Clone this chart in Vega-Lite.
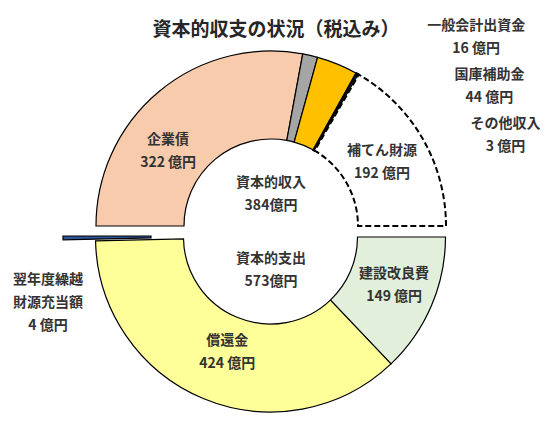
{
  "$schema": "https://vega.github.io/schema/vega-lite/v6.json",
  "width": 558,
  "height": 447,
  "padding": 0,
  "autosize": {"type": "none"},
  "background": "white",
  "config": {
    "view": {"stroke": "#d9d9d9", "strokeWidth": 2},
    "font": "Noto Sans CJK JP",
    "text": {"font": "Noto Sans CJK JP", "fontSize": 14, "fontWeight": "bold", "color": "#333333", "lineBreak": "\n", "lineHeight": 23, "align": "center", "baseline": "middle"}
  },
  "title": {
    "text": "資本的収支の状況（税込み）",
    "fontSize": 19,
    "fontWeight": "bold",
    "color": "#262626",
    "font": "Noto Sans CJK JP",
    "anchor": "middle",
    "dx": -3,
    "dy": 44
  },
  "datasets": {
    "slices": [
      {"half": "in", "name": "企業債", "value": 322, "order": 1, "label": "企業債\n322 億円"},
      {"half": "in", "name": "一般会計出資金", "value": 16, "order": 2, "label": "一般会計出資金\n16 億円"},
      {"half": "in", "name": "国庫補助金", "value": 44, "order": 3, "label": "国庫補助金\n44 億円"},
      {"half": "in", "name": "その他収入", "value": 3, "order": 4, "label": "その他収入\n3 億円"},
      {"half": "in", "name": "補てん財源", "value": 192, "order": 5, "label": "補てん財源\n192 億円"},
      {"half": "out", "name": "建設改良費", "value": 149, "order": 1, "label": "建設改良費\n149 億円"},
      {"half": "out", "name": "償還金", "value": 424, "order": 2, "label": "償還金\n424 億円"},
      {"half": "out", "name": "翌年度繰越財源充当額", "value": 4, "order": 3, "label": "翌年度繰越\n財源充当額\n4 億円"}
    ],
    "totals": [
      {"half": "in", "label": "資本的収入\n384億円"},
      {"half": "out", "label": "資本的支出\n573億円"}
    ]
  },
  "layer": [
    {
      "data": {"name": "slices"},
      "transform": [{"filter": "datum.half === 'in'"}],
      "mark": {"type": "arc", "outerRadius": 175, "innerRadius": 87, "xOffset": -8, "yOffset": 2.5, "stroke": "#000000"},
      "encoding": {
        "theta": {"field": "value", "type": "quantitative", "stack": true, "scale": {"range": [-1.5707963, 1.5707963]}},
        "order": {"field": "order", "type": "quantitative"},
        "color": {"field": "name", "type": "nominal", "legend": null,
          "scale": {"domain": ["企業債", "一般会計出資金", "国庫補助金", "その他収入", "補てん財源", "建設改良費", "償還金", "翌年度繰越財源充当額"],
                    "range": ["#F8CBAD", "#A5A5A5", "#FFC000", "#1F3864", "#FFFFFF", "#E2EFDA", "#FFFF99", "#2F5597"]}},
        "strokeWidth": {"condition": {"test": "datum.name === 'その他収入'", "value": 2.2}, "value": 1.2},
        "strokeOpacity": {"condition": {"test": "datum.name === '補てん財源'", "value": 0}, "value": 1}
      }
    },
    {
      "data": {"name": "slices"},
      "transform": [{"filter": "datum.half === 'in'"}],
      "mark": {"type": "arc", "outerRadius": 175, "innerRadius": 87, "xOffset": -8, "yOffset": 2.5, "stroke": "#000000", "fillOpacity": 0, "strokeWidth": 2, "strokeDash": [6, 3]},
      "encoding": {
        "theta": {"field": "value", "type": "quantitative", "stack": true, "scale": {"range": [-1.5707963, 1.5707963]}},
        "order": {"field": "order", "type": "quantitative"},
        "strokeOpacity": {"condition": {"test": "datum.name === '補てん財源'", "value": 1}, "value": 0}
      }
    },
    {
      "data": {"name": "slices"},
      "transform": [{"filter": "datum.half === 'out'"}],
      "mark": {"type": "arc", "outerRadius": 175, "innerRadius": 87, "xOffset": -8.5, "yOffset": 13.5, "stroke": "#000000", "strokeWidth": 1.2},
      "encoding": {
        "theta": {"field": "value", "type": "quantitative", "stack": true, "scale": {"range": [1.5707963, 4.7123890]}},
        "order": {"field": "order", "type": "quantitative"},
        "color": {"field": "name", "type": "nominal", "legend": null,
          "scale": {"domain": ["企業債", "一般会計出資金", "国庫補助金", "その他収入", "補てん財源", "建設改良費", "償還金", "翌年度繰越財源充当額"],
                    "range": ["#F8CBAD", "#A5A5A5", "#FFC000", "#1F3864", "#FFFFFF", "#E2EFDA", "#FFFF99", "#2F5597"]}},
        "opacity": {"condition": {"test": "datum.name === '翌年度繰越財源充当額'", "value": 0}, "value": 1}
      }
    },
    {
      "data": {"name": "slices"},
      "transform": [{"filter": "datum.half === 'out'"}],
      "mark": {"type": "arc", "outerRadius": 175, "innerRadius": 87, "xOffset": -41, "yOffset": 12.5, "stroke": "#000000", "strokeWidth": 1.2},
      "encoding": {
        "theta": {"field": "value", "type": "quantitative", "stack": true, "scale": {"range": [1.5707963, 4.7123890]}},
        "order": {"field": "order", "type": "quantitative"},
        "color": {"field": "name", "type": "nominal", "legend": null,
          "scale": {"domain": ["企業債", "一般会計出資金", "国庫補助金", "その他収入", "補てん財源", "建設改良費", "償還金", "翌年度繰越財源充当額"],
                    "range": ["#F8CBAD", "#A5A5A5", "#FFC000", "#1F3864", "#FFFFFF", "#E2EFDA", "#FFFF99", "#2F5597"]}},
        "opacity": {"condition": {"test": "datum.name === '翌年度繰越財源充当額'", "value": 1}, "value": 0}
      }
    },
    {
      "data": {"name": "slices"},
      "transform": [{"filter": "datum.half === 'in'"}],
      "mark": {"type": "text", "radius": 128, "xOffset": -8, "yOffset": 2.5, "dx": -21, "dy": 12},
      "encoding": {
        "theta": {"field": "value", "type": "quantitative", "stack": true, "scale": {"range": [-1.5707963, 1.5707963]}},
        "order": {"field": "order", "type": "quantitative"},
        "text": {"condition": {"test": "datum.name === '企業債'", "field": "label"}, "value": ""}
      }
    },
    {
      "data": {"name": "slices"},
      "transform": [{"filter": "datum.half === 'in'"}],
      "mark": {"type": "text", "radius": 128, "xOffset": -8, "yOffset": 2.5, "dx": 0, "dy": -11},
      "encoding": {
        "theta": {"field": "value", "type": "quantitative", "stack": true, "scale": {"range": [-1.5707963, 1.5707963]}},
        "order": {"field": "order", "type": "quantitative"},
        "text": {"condition": {"test": "datum.name === '補てん財源'", "field": "label"}, "value": ""}
      }
    },
    {
      "data": {"name": "slices"},
      "transform": [{"filter": "datum.half === 'in'"}],
      "mark": {"type": "text", "radius": 175, "xOffset": -8, "yOffset": 2.5, "dx": 166, "dy": -29.5},
      "encoding": {
        "theta": {"field": "value", "type": "quantitative", "stack": true, "scale": {"range": [-1.5707963, 1.5707963]}},
        "order": {"field": "order", "type": "quantitative"},
        "text": {"condition": {"test": "datum.name === '一般会計出資金'", "field": "label"}, "value": ""}
      }
    },
    {
      "data": {"name": "slices"},
      "transform": [{"filter": "datum.half === 'in'"}],
      "mark": {"type": "text", "radius": 175, "xOffset": -8, "yOffset": 2.5, "dx": 152, "dy": 11},
      "encoding": {
        "theta": {"field": "value", "type": "quantitative", "stack": true, "scale": {"range": [-1.5707963, 1.5707963]}},
        "order": {"field": "order", "type": "quantitative"},
        "text": {"condition": {"test": "datum.name === '国庫補助金'", "field": "label"}, "value": ""}
      }
    },
    {
      "data": {"name": "slices"},
      "transform": [{"filter": "datum.half === 'in'"}],
      "mark": {"type": "text", "radius": 175, "xOffset": -8, "yOffset": 2.5, "dx": 148, "dy": 50},
      "encoding": {
        "theta": {"field": "value", "type": "quantitative", "stack": true, "scale": {"range": [-1.5707963, 1.5707963]}},
        "order": {"field": "order", "type": "quantitative"},
        "text": {"condition": {"test": "datum.name === 'その他収入'", "field": "label"}, "value": ""}
      }
    },
    {
      "data": {"name": "slices"},
      "transform": [{"filter": "datum.half === 'out'"}],
      "mark": {"type": "text", "radius": 128, "xOffset": -8.5, "yOffset": 13.5, "dx": 6, "dy": -14},
      "encoding": {
        "theta": {"field": "value", "type": "quantitative", "stack": true, "scale": {"range": [1.5707963, 4.7123890]}},
        "order": {"field": "order", "type": "quantitative"},
        "text": {"condition": {"test": "datum.name !== '翌年度繰越財源充当額'", "field": "label"}, "value": ""}
      }
    },
    {
      "data": {"name": "slices"},
      "transform": [{"filter": "datum.half === 'out'"}],
      "mark": {"type": "text", "radius": 175, "xOffset": -41, "yOffset": 12.5, "dx": -15, "dy": 41.6},
      "encoding": {
        "theta": {"field": "value", "type": "quantitative", "stack": true, "scale": {"range": [1.5707963, 4.7123890]}},
        "order": {"field": "order", "type": "quantitative"},
        "text": {"condition": {"test": "datum.name === '翌年度繰越財源充当額'", "field": "label"}, "value": ""}
      }
    },
    {
      "data": {"name": "totals"},
      "transform": [{"filter": "datum.half === 'in'"}],
      "mark": {"type": "text", "xOffset": -8, "yOffset": -41},
      "encoding": {"text": {"field": "label"}}
    },
    {
      "data": {"name": "totals"},
      "transform": [{"filter": "datum.half === 'out'"}],
      "mark": {"type": "text", "xOffset": -8, "yOffset": 35.5},
      "encoding": {"text": {"field": "label"}}
    }
  ],
  "resolve": {"scale": {"theta": "independent"}}
}
